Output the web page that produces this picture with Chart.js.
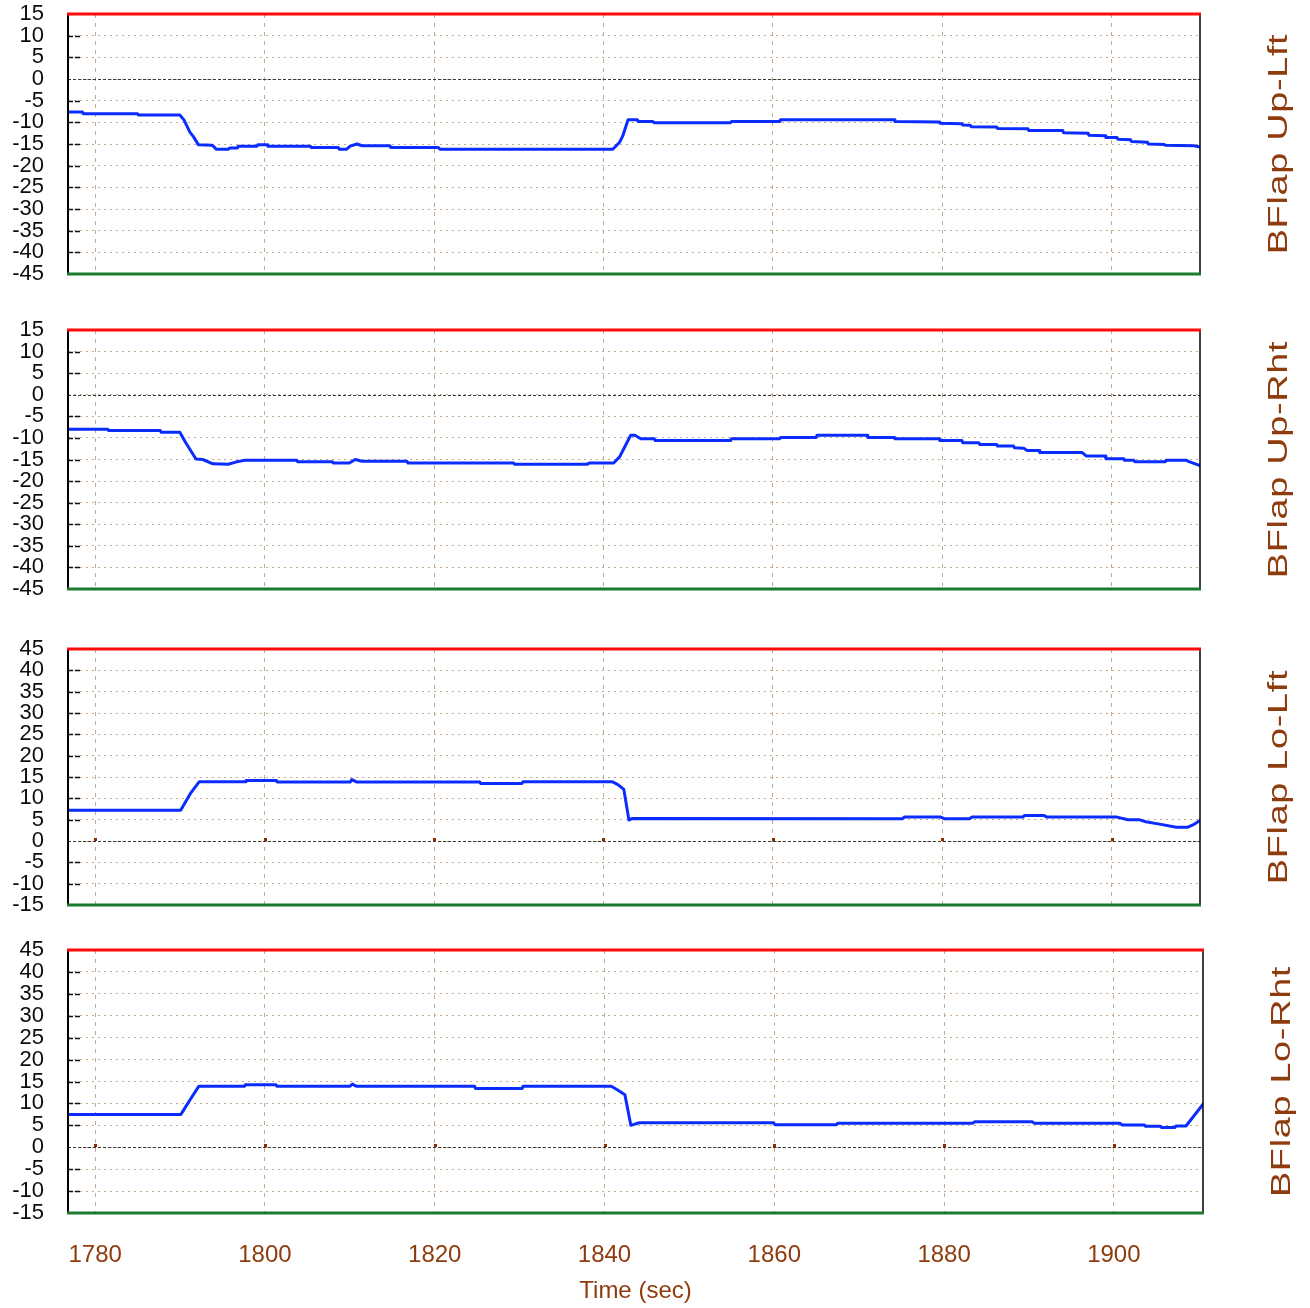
<!DOCTYPE html>
<html>
<head>
<meta charset="utf-8">
<title>BFlap deflections</title>
<script src="https://cdn.jsdelivr.net/npm/chart.js@4.4.1/dist/chart.umd.min.js"></script>
<style>
  html, body { margin: 0; padding: 0; background: #fff; }
  #wrap { position: relative; width: 1310px; height: 1308px; overflow: hidden; }
  canvas { position: absolute; left: 0; }
</style>
</head>
<body>
<div id="wrap">
  <canvas id="c1" width="1310" height="300" style="top:0px"></canvas>
  <canvas id="c2" width="1310" height="300" style="top:316px"></canvas>
  <canvas id="c3" width="1310" height="296" style="top:635px"></canvas>
  <canvas id="c4" width="1310" height="372" style="top:936px"></canvas>
</div>
<script>
// Time axis (seconds) and value axis tick lists
const timeTicks = [1780, 1800, 1820, 1840, 1860, 1880, 1900];
const upperTicks = [15, 10, 5, 0, -5, -10, -15, -20, -25, -30, -35, -40, -45];
const lowerTicks = [45, 40, 35, 30, 25, 20, 15, 10, 5, 0, -5, -10, -15];
const panelLabels = ['BFlap Up-Lft', 'BFlap Up-Rht', 'BFlap Lo-Lft', 'BFlap Lo-Rht'];

// Flap deflection records: [time (sec), deflection]
const upLft = [
  [1776.8,-7.6],[1778.5,-7.6],[1778.6,-8.0],[1785.0,-8.0],[1785.1,-8.3],[1790.0,-8.3],
  [1790.5,-9.5],[1791.2,-12.3],[1791.6,-13.3],[1792.2,-15.2],[1793.8,-15.3],[1794.0,-15.6],
  [1794.3,-16.2],[1795.7,-16.2],[1795.9,-15.9],[1796.8,-15.9],[1796.9,-15.5],[1799.1,-15.5],
  [1799.2,-15.2],[1800.3,-15.2],[1800.4,-15.5],[1805.4,-15.5],[1805.5,-15.8],[1808.7,-15.8],
  [1808.8,-16.2],[1809.7,-16.2],[1810.1,-15.5],[1810.9,-15.0],[1811.5,-15.4],[1814.8,-15.4],
  [1814.9,-15.8],[1820.5,-15.8],[1820.7,-16.2],[1841.1,-16.2],[1841.9,-14.6],[1842.3,-13.0],
  [1842.9,-9.4],[1844.0,-9.4],[1844.1,-9.8],[1845.8,-9.8],[1846.0,-10.1],[1855.0,-10.1],
  [1855.1,-9.8],[1860.8,-9.8],[1860.9,-9.4],[1874.3,-9.4],[1874.4,-9.8],[1879.6,-9.9],
  [1879.7,-10.2],[1882.3,-10.3],[1882.4,-10.6],[1883.3,-10.7],[1883.4,-11.0],[1886.4,-11.1],
  [1886.5,-11.4],[1890.1,-11.5],[1890.2,-11.9],[1894.2,-11.9],[1894.3,-12.4],[1897.2,-12.5],
  [1897.3,-13.0],[1899.2,-13.1],[1899.3,-13.5],[1900.6,-13.5],[1900.7,-13.9],[1902.2,-14.0],
  [1902.3,-14.4],[1904.2,-14.6],[1904.3,-15.0],[1906.2,-15.1],[1906.3,-15.3],[1909.7,-15.4],
  [1910.4,-15.7]
];
const upRht = [
  [1776.8,-8.0],[1781.5,-8.0],[1781.6,-8.3],[1787.7,-8.3],[1787.8,-8.7],[1790.0,-8.7],
  [1790.7,-11.1],[1791.2,-12.7],[1791.9,-14.9],[1792.7,-15.0],[1793.9,-16.0],[1795.7,-16.1],
  [1796.6,-15.6],[1797.6,-15.2],[1803.8,-15.2],[1803.9,-15.5],[1808.0,-15.5],[1808.1,-15.8],
  [1810.0,-15.8],[1810.7,-15.0],[1811.5,-15.4],[1816.8,-15.4],[1816.9,-15.8],[1829.4,-15.8],
  [1829.5,-16.1],[1838.1,-16.1],[1838.3,-15.8],[1841.2,-15.8],[1841.9,-14.4],[1842.5,-12.1],
  [1843.2,-9.4],[1843.7,-9.4],[1844.4,-10.2],[1846.0,-10.2],[1846.1,-10.6],[1855.0,-10.6],
  [1855.1,-10.2],[1860.8,-10.2],[1860.9,-9.9],[1865.1,-9.9],[1865.2,-9.4],[1871.1,-9.4],
  [1871.2,-9.9],[1874.3,-9.9],[1874.4,-10.2],[1879.6,-10.2],[1879.7,-10.6],[1882.3,-10.6],
  [1882.4,-11.1],[1884.3,-11.1],[1884.4,-11.5],[1886.4,-11.5],[1886.5,-11.9],[1888.4,-11.9],
  [1888.5,-12.3],[1889.6,-12.4],[1890.0,-12.9],[1891.4,-12.9],[1891.5,-13.4],[1896.5,-13.4],
  [1897.0,-14.2],[1899.2,-14.2],[1899.3,-14.8],[1901.4,-14.8],[1901.5,-15.2],[1902.6,-15.2],
  [1902.7,-15.5],[1906.3,-15.5],[1906.4,-15.2],[1908.8,-15.2],[1909.1,-15.5],[1910.4,-16.4]
];
const loLft = [
  [1776.8,7.2],[1790.1,7.2],[1791.3,11.3],[1792.3,13.9],[1797.7,13.9],[1797.8,14.2],
  [1801.4,14.2],[1801.5,13.8],[1810.1,13.8],[1810.3,14.4],[1810.9,13.8],[1825.4,13.8],
  [1825.5,13.5],[1830.4,13.5],[1830.5,13.9],[1841.0,13.9],[1841.7,13.2],[1842.4,12.1],
  [1843.0,4.9],[1843.4,5.3],[1875.3,5.2],[1875.5,5.6],[1879.8,5.6],[1880.3,5.2],
  [1883.2,5.2],[1883.5,5.6],[1889.5,5.6],[1889.7,6.0],[1892.0,6.0],[1892.3,5.6],
  [1900.6,5.6],[1901.9,5.0],[1903.2,5.0],[1904.0,4.5],[1905.8,3.9],[1907.6,3.2],
  [1908.9,3.2],[1909.7,3.9],[1910.4,4.8]
];
const loRht = [
  [1776.8,7.5],[1790.1,7.5],[1791.2,10.9],[1792.2,13.9],[1797.6,13.9],[1797.7,14.25],
  [1801.3,14.25],[1801.4,13.9],[1810.0,13.9],[1810.3,14.4],[1810.8,13.9],[1824.7,13.9],
  [1824.8,13.4],[1830.3,13.4],[1830.4,13.9],[1840.8,13.9],[1841.5,13.1],[1842.4,12.0],
  [1843.1,5.0],[1844.1,5.6],[1859.9,5.6],[1860.1,5.15],[1867.3,5.15],[1867.5,5.5],
  [1883.4,5.5],[1883.6,5.8],[1890.4,5.8],[1890.6,5.5],[1900.7,5.5],[1901.0,5.1],
  [1903.6,5.1],[1903.7,4.8],[1905.5,4.8],[1905.6,4.5],[1907.2,4.5],[1907.3,4.85],
  [1908.5,4.85],[1910.5,9.8]
];

const BROWN = '#8e3b0e';
const GRID = '#c2aa90';
const FONT = '"Liberation Sans", Arial, sans-serif';

// Frame, zero reference, inner tick dashes and rotated panel name
const framePlugin = {
  id: 'frame',
  beforeDatasetsDraw(chart, args, opts) {
    const { ctx, chartArea: a, scales: { x, y } } = chart;
    ctx.save();
    ctx.strokeStyle = '#111';
    ctx.lineWidth = 1.5;
    ctx.setLineDash([5, 2]);
    y.ticks.forEach(t => {
      if (t.value === y.max || t.value === y.min || t.value === 0) return;
      const py = Math.round(y.getPixelForValue(t.value)) + 0.5;
      ctx.beginPath();
      ctx.moveTo(a.left, py);
      ctx.lineTo(a.left + 14, py);
      ctx.stroke();
    });
    const zy = Math.round(y.getPixelForValue(0)) + 0.5;
    ctx.strokeStyle = '#3a3a3a';
    ctx.lineWidth = 1;
    ctx.setLineDash([3, 2]);
    ctx.beginPath();
    ctx.moveTo(a.left, zy);
    ctx.lineTo(a.right, zy);
    ctx.stroke();
    if (opts.zeroMarks) {
      ctx.fillStyle = '#8e2a00';
      x.ticks.forEach(t => {
        const px = Math.round(x.getPixelForValue(t.value));
        ctx.fillRect(px - 1, zy - 3.5, 3, 3);
      });
    }
    ctx.restore();
  },
  afterDraw(chart, args, opts) {
    const { ctx, chartArea: a } = chart;
    ctx.save();
    ctx.setLineDash([]);
    ctx.strokeStyle = '#000';
    ctx.lineWidth = 2;
    ctx.beginPath();
    ctx.moveTo(a.left, a.top);
    ctx.lineTo(a.left, a.bottom);
    ctx.stroke();
    ctx.lineWidth = 1.5;
    ctx.beginPath();
    ctx.moveTo(a.right, a.top);
    ctx.lineTo(a.right, a.bottom);
    ctx.stroke();
    ctx.lineWidth = 3;
    ctx.strokeStyle = '#ff0a0a';
    ctx.beginPath();
    ctx.moveTo(a.left - 1, a.top);
    ctx.lineTo(a.right + 1, a.top);
    ctx.stroke();
    ctx.strokeStyle = '#1b7a2f';
    ctx.beginPath();
    ctx.moveTo(a.left - 1, a.bottom);
    ctx.lineTo(a.right + 1, a.bottom);
    ctx.stroke();

    ctx.translate(opts.labelX, (a.top + a.bottom) / 2);
    ctx.rotate(-Math.PI / 2);
    ctx.scale(1.4, 1);
    ctx.font = '27px ' + FONT;
    if ('letterSpacing' in ctx) ctx.letterSpacing = '0.5px';
    ctx.fillStyle = BROWN;
    ctx.textAlign = 'center';
    ctx.textBaseline = 'alphabetic';
    ctx.fillText(opts.label, 0, 0);
    ctx.restore();
  }
};

function makePanel(id, records, yTicks, label, opt) {
  const bottomAxis = !!opt.bottomAxis;
  new Chart(document.getElementById(id), {
    type: 'line',
    data: {
      datasets: [{
        data: records.map(r => ({ x: r[0], y: r[1] })),
        borderColor: '#0a2cff',
        borderWidth: 3,
        borderJoinStyle: 'round',
        borderCapStyle: 'round',
        pointRadius: 0,
        tension: 0,
        fill: false
      }]
    },
    options: {
      responsive: false,
      animation: false,
      devicePixelRatio: 1,
      layout: {
        autoPadding: false,
        padding: { left: 0, top: 14, right: opt.right, bottom: opt.bottom }
      },
      plugins: {
        legend: { display: false },
        tooltip: { enabled: false },
        frame: { label: label, labelX: opt.labelX, zeroMarks: !!opt.zeroMarks }
      },
      scales: {
        x: {
          type: 'linear',
          min: 1776.8,
          max: opt.xMax,
          afterBuildTicks: s => { s.ticks = timeTicks.map(v => ({ value: v })); },
          afterFit: s => {
            s.height = bottomAxis ? 95 : 0;
            s.paddingLeft = 0; s.paddingRight = 0; s.paddingTop = 0; s.paddingBottom = 0;
          },
          grid: { color: GRID, lineWidth: 1, drawTicks: false },
          border: { display: false, dash: [4, 5] },
          ticks: {
            display: bottomAxis,
            autoSkip: false,
            maxRotation: 0,
            padding: 28,
            color: BROWN,
            font: { family: FONT, size: 24 },
            callback: v => String(v)
          },
          title: {
            display: bottomAxis,
            text: 'Time (sec)',
            color: BROWN,
            font: { family: FONT, size: 24 },
            padding: { top: 0, bottom: 2 }
          }
        },
        y: {
          type: 'linear',
          min: yTicks[yTicks.length - 1],
          max: yTicks[0],
          afterBuildTicks: s => { s.ticks = yTicks.map(v => ({ value: v })); },
          afterFit: s => {
            s.width = 68;
            s.paddingLeft = 0; s.paddingRight = 0; s.paddingTop = 0; s.paddingBottom = 0;
          },
          grid: { color: GRID, lineWidth: 1, drawTicks: false },
          border: { display: false, dash: [2, 4] },
          ticks: {
            autoSkip: false,
            padding: 24,
            color: '#0d0d0d',
            font: { family: FONT, size: 22 },
            callback: v => String(v)
          }
        }
      }
    },
    plugins: [framePlugin]
  });
}

makePanel('c1', upLft, upperTicks, panelLabels[0], { right: 110, bottom: 26, labelX: 1287, xMax: 1910.4 });
makePanel('c2', upRht, upperTicks, panelLabels[1], { right: 110, bottom: 27, labelX: 1287, xMax: 1910.4 });
makePanel('c3', loLft, lowerTicks, panelLabels[2], { right: 110, bottom: 26, labelX: 1287, xMax: 1910.4, zeroMarks: true });
makePanel('c4', loRht, lowerTicks, panelLabels[3], { right: 107, bottom: 0, labelX: 1290, xMax: 1910.5, zeroMarks: true, bottomAxis: true });
</script>
</body>
</html>
